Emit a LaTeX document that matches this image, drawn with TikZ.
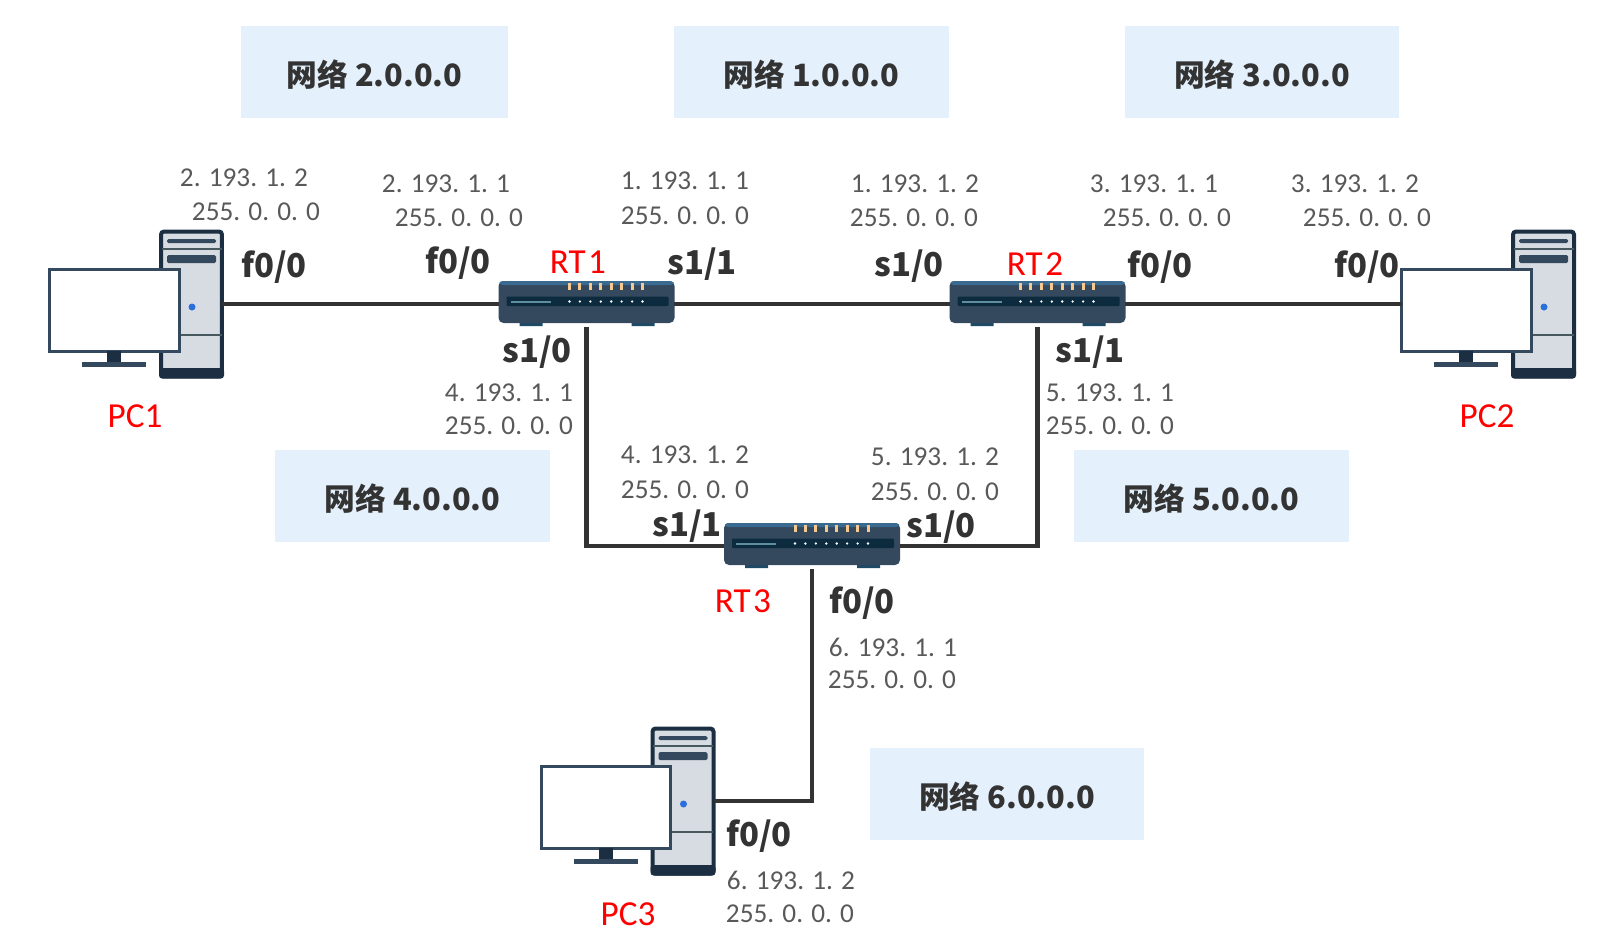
\documentclass[tikz,border=0pt]{standalone}
\usepackage{fontspec}
\setmainfont{Carlito}
\newfontfamily\cjkfont{Noto Sans CJK SC}
\usepackage{tikz}
\usetikzlibrary{positioning}

\definecolor{netblue}{HTML}{E4F1FC}
\definecolor{wirecol}{HTML}{333333}
\definecolor{addrcol}{HTML}{595959}
\definecolor{navy}{HTML}{1C2F42}
\definecolor{slate}{HTML}{34495E}
\definecolor{caselight}{HTML}{D7DCE2}
\definecolor{sepline}{HTML}{47595F}
\definecolor{ledblue}{HTML}{2A6FDB}
\definecolor{bandblue}{HTML}{3A6A90}
\definecolor{slotcol}{HTML}{0C2B3E}
\definecolor{ledorange}{HTML}{F5C98F}
\definecolor{slotline}{HTML}{5F8F9F}
\definecolor{footcol}{HTML}{1F4A66}

\tikzset{
  netlabel/.style={fill=netblue, minimum width=5.5cm, minimum height=1.84cm, outer sep=0pt},
  nettext/.style={font=\cjkfont\bfseries\fontsize{17.5}{20}\selectfont, text=wirecol},
  addr/.style={font=\fontsize{15.5}{18}\selectfont, text=addrcol},
  port/.style={font=\cjkfont\bfseries\fontsize{18.7}{21}\selectfont, text=wirecol},
  devname/.style={font=\fontsize{20}{22}\selectfont, text=red},
  wire/.style={draw=wirecol, line width=0.09cm},
  pics/pcicon/.style={code={
    \node[draw=navy, fill=caselight, line width=0.08cm, rounded corners=0.06cm,
          minimum width=1.22cm, minimum height=2.9cm, inner sep=0pt, outer sep=0pt] (tower) at (0,0) {};
    \fill[navy, rounded corners=0.06cm] (-32.5,64) rectangle (32.5,74.5);
    \fill[slate, rounded corners=0.03cm] (-24.5,-65) rectangle (24.5,-61);
    \fill[slate, rounded corners=0.03cm] (-24.5,-49) rectangle (24.5,-41);
    \draw[sepline, line width=0.04cm] (-30,-55) -- (30,-55) (-30,31) -- (30,31);
    \fill[ledblue] (0.5,3) circle (0.07cm);
    \node[draw=slate, fill=white, line width=0.06cm, minimum width=2.6cm, minimum height=1.64cm,
          inner sep=0pt, outer sep=0pt] (screen) at (-77,6) {};
    \fill[navy] (-84.5,47) rectangle (-70.5,58);
    \fill[slate] (-109.5,58) rectangle (-45.5,63);
  }},
  pics/routericon/.style={code={
    \node[minimum width=3.52cm, minimum height=0.92cm, inner sep=0pt, outer sep=0pt] (body) at (0,0) {};
    \fill[footcol] (-67,17) rectangle (-44,22) (45,17) rectangle (68,22);
    \fill[slate, rounded corners=0.1cm] (-88,-23) rectangle (88,19);
    \fill[bandblue, rounded corners=0.06cm] (-87,-23) rectangle (87,-19);
    \fill[slotcol, rounded corners=0.02cm] (-80,-7.5) rectangle (82,2);
    \fill[slotline] (-76,-3.5) rectangle (-36,-1.5);
    \foreach \k in {0,...,7} {
      \fill[ledorange] (-18.5+10.43*\k,-21) rectangle (-15.5+10.43*\k,-14);
      \fill[white] (-17+10.43*\k,-2.5) circle (0.026cm);
    }
  }},
}

\begin{document}
\begin{tikzpicture}[x=0.02cm, y=-0.02cm]
    \useasboundingbox (0,0) rectangle (1619,951);

    % Network boxes
    \foreach \n/\x/\y/\w/\t in {neta/374.5/72/5.34cm/2, netb/811.5/72/5.5cm/1, netc/1262/72/5.5cm/3, netd/412.5/496/5.5cm/4, nete/1211.5/496/5.5cm/5, netf/1007/793.5/5.5cm/6} {
      \node[netlabel, minimum width=\w] (\n) at (\x,\y) {};
      \node[nettext] (\n text) at ([yshift=-0.06cm]\n) {网络 \t.0.0.0};
    }

    % Devices
    \foreach \n/\x/\y in {pc1/191.5/304, pc2/1543.5/304, pc3/683/801} {
      \pic (\n) at (\x,\y) {pcicon};
    }
    \foreach \n/\x/\y in {rt1/586.5/304, rt2/1037.5/304, rt3/812/546} {
      \pic (\n) at (\x,\y) {routericon};
    }

    % Links
    \draw[wire] (pc1tower.east) -- (rt1body.west);
    \draw[wire] (rt1body.east) -- (rt2body.west);
    \draw[wire] (rt2body.east) -- (rt2body.east -| pc2screen.west);
    \draw[wire] (rt1body.south) |- (rt3body.west);
    \draw[wire] (rt2body.south) |- (rt3body.east);
    \draw[wire] (rt3body.south) |- (pc3tower.east);

    % Addresses
    \foreach \n/\x/\y/\t in {
      aa/244/178/2. 193. 1. 2, ab/256/212/255. 0. 0. 0,
      ac/446/184/2. 193. 1. 1, ad/459/218/255. 0. 0. 0,
      ae/685/181/1. 193. 1. 1, af/685/216/255. 0. 0. 0,
      ag/915/184/1. 193. 1. 2, ah/914/218/255. 0. 0. 0,
      ai/1154/184/3. 193. 1. 1, aj/1167/218/255. 0. 0. 0,
      ak/1355/184/3. 193. 1. 2, al/1367/218/255. 0. 0. 0,
      am/509/393/4. 193. 1. 1, an/509/426/255. 0. 0. 0,
      ao/685/455/4. 193. 1. 2, ap/685/490/255. 0. 0. 0,
      aq/1110/393/5. 193. 1. 1, ar/1110/426/255. 0. 0. 0,
      as/935/457/5. 193. 1. 2, at/935/492/255. 0. 0. 0,
      au/893/647/6. 193. 1. 1, av/892/680/255. 0. 0. 0,
      aw/791/880/6. 193. 1. 2, ax/790/914/255. 0. 0. 0} {
      \node[addr] (\n) at (\x,\y) {\t};
    }

    % Interfaces
    \foreach \n/\x/\y/\t in {
      pa/274/267/{f0/0}, pb/458/263/{f0/0}, pc/702/264/{s1/1}, pd/909/266/{s1/0},
      pe/1160/267/{f0/0}, pf/1367/267/{f0/0}, pg/537/352/{s1/0}, ph/1090/352/{s1/1},
      pi/687/526/{s1/1}, pj/941/527/{s1/0}, pk/862/603/{f0/0}, pl/759/836/{f0/0}} {
      \node[port] (\n) at (\x,\y) {\t};
    }

    % Device names
    \foreach \n/\x/\y/\t in {
      na/578/262/RT\kern.07em 1, nb/1035/264/RT\kern.07em 2, nc/743/601/RT\kern.07em 3,
      nd/135/416/PC1, ne/1487/416/PC2, nf/628/914/PC3} {
      \node[devname] (\n) at (\x,\y) {\t};
    }
\end{tikzpicture}
\end{document}
